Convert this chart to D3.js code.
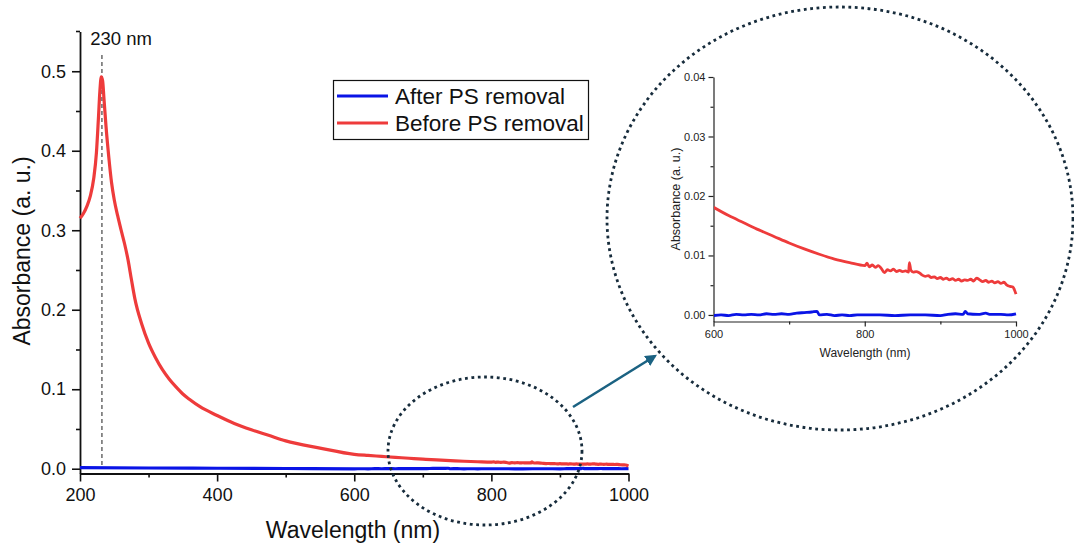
<!DOCTYPE html>
<html>
<head>
<meta charset="utf-8">
<script src="https://cdn.jsdelivr.net/npm/d3@7"></script>
<style>
  body { margin: 0; background: #fff; }
  svg { font-family: Arial, "Liberation Sans", sans-serif; }
</style>
</head>
<body>
<svg width="1074" height="546"></svg>
<script>
// wavelengths (nm) and absorbance
var redWl = [200,205,210,215,220,224,227,229,231,233,235,238,242,246,250,255,260,265,270,275,280,290,300,310,320,330,340,350,360,375,400,425,450,475,500,550,600,620,640,660,680,700,720,740,760,780,800,
  803,806,810,814,818,822,826,830,834,838,842,846,850,854,858,859,861,864,868,872,876,880,884,888,892,896,900,904,908,912,916,920,924,928,932,936,940,944,948,952,956,960,964,968,972,976,980,984,988,992,996,998,1000];
var redAbs = [0.315,0.321,0.330,0.343,0.365,0.398,0.443,0.475,0.493,0.488,0.465,0.430,0.392,0.360,0.338,0.318,0.300,0.283,0.263,0.238,0.214,0.182,0.158,0.140,0.125,0.113,0.103,0.094,0.087,0.078,0.067,0.057,0.049,0.042,0.035,0.026,0.0181,0.0167,0.0155,0.0143,0.0132,0.0121,0.0111,0.0102,0.0094,0.0088,0.0083,
  0.0087,0.0081,0.0084,0.0080,0.0083,0.0078,0.0071,0.0076,0.0074,0.0077,0.0073,0.0075,0.0073,0.0074,0.0072,0.0088,0.0075,0.0072,0.0073,0.0071,0.0067,0.0065,0.0066,0.0063,0.0064,0.0061,0.0063,0.0060,0.0062,0.0059,0.0061,0.0058,0.0060,0.0057,0.0059,0.0058,0.0060,0.0057,0.0062,0.0059,0.0056,0.0058,0.0055,0.0057,0.0054,0.0056,0.0053,0.0055,0.0050,0.0048,0.0047,0.0042,0.0035];

var blueWl = [200,300,400,500,600,610,620,630,640,650,660,670,680,690,700,710,720,730,737,740,750,760,770,780,790,800,820,840,860,880,900,910,920,930,933,936,950,960,965,980,990,1000];
var blueAbs = [0.0013,0.0009,0.0006,0.0003,-0.0001,0.0000,-0.0001,0.0001,0.0000,0.0001,0.0000,0.0002,0.0001,0.0002,0.0001,0.0003,0.0004,0.0005,0.0006,0.0000,0.0001,-0.0001,0.0000,-0.0001,0.0000,0.0000,0.0000,-0.0001,0.0000,0.0000,-0.0001,0.0001,0.0002,0.0001,0.0006,0.0002,0.0001,0.0003,0.0001,0.0001,0.0000,0.0002];

var xTicks = [200,400,600,800,1000];
var yTicks = [0.0,0.1,0.2,0.3,0.4,0.5];
var insetXTicks = [600,800,1000];
var insetYTicks = [0.00,0.01,0.02,0.03,0.04];
var peakWl = 232;
var seriesNames = ["After PS removal", "Before PS removal"];

var RED = "#ee3b3b", BLUE = "#0a14e6", DOT = "#172c3c", ARROW = "#1b6282";

var redData = d3.zip(redWl, redAbs), blueData = d3.zip(blueWl, blueAbs);
var svg = d3.select("svg");

// ---------- main chart ----------
var x = d3.scaleLinear().domain([200, 1000]).range([80, 628.5]);
var y = d3.scaleLinear().domain([-0.006, 0.55]).range([473.5, 31.5]);

function axisStyle(g, col) {
  g.selectAll("path, line").attr("stroke", col).attr("stroke-width", 1.6);
  g.select(".domain").attr("stroke-width", 1.8);
}

var gx = svg.append("g").attr("transform", "translate(0,473.5)")
  .call(d3.axisBottom(x).tickValues(xTicks).tickSize(8).tickSizeOuter(0).tickPadding(7).tickFormat(d3.format("d")));
gx.selectAll("text").attr("font-size", 18).attr("fill", "#111");
axisStyle(gx, "#111");
svg.append("g").attr("transform", "translate(0,473.5)")
  .call(d3.axisBottom(x).tickValues([300,500,700,900]).tickSize(4).tickFormat(""))
  .call(g => { g.select(".domain").remove(); g.selectAll("line").attr("stroke", "#111").attr("stroke-width", 1.6); });

var gy = svg.append("g").attr("transform", "translate(80,0)")
  .call(d3.axisLeft(y).tickValues(yTicks).tickSize(8).tickSizeOuter(0).tickPadding(6).tickFormat(d3.format(".1f")));
gy.selectAll("text").attr("font-size", 18).attr("fill", "#111");
axisStyle(gy, "#111");
svg.append("g").attr("transform", "translate(80,0)")
  .call(d3.axisLeft(y).tickValues([0.05,0.15,0.25,0.35,0.45]).tickSize(4).tickFormat(""))
  .call(g => { g.select(".domain").remove(); g.selectAll("line").attr("stroke", "#111").attr("stroke-width", 1.6); });
// little cap at top of y axis
svg.append("line").attr("x1", 76).attr("x2", 80).attr("y1", y(0.55)).attr("y2", y(0.55))
  .attr("stroke", "#111").attr("stroke-width", 1.6);

svg.append("text").attr("x", 353).attr("y", 538).attr("text-anchor", "middle")
  .attr("font-size", 23).attr("fill", "#111").text("Wavelength (nm)");
svg.append("text").attr("transform", "translate(30,251) rotate(-90)").attr("text-anchor", "middle")
  .attr("font-size", 23).attr("fill", "#111").text("Absorbance (a. u.)");

// peak marker
svg.append("line").attr("x1", x(peakWl)).attr("x2", x(peakWl)).attr("y1", 55).attr("y2", y(0))
  .attr("stroke", "#333").attr("stroke-width", 1.1).attr("stroke-dasharray", "4,3");
svg.append("text").attr("x", 121).attr("y", 45).attr("text-anchor", "middle")
  .attr("font-size", 18.5).attr("fill", "#111").text("230 nm");

var line = d3.line().curve(d3.curveMonotoneX).x(d => x(d[0])).y(d => y(d[1]));
svg.append("path").datum(blueData).attr("d", line).attr("fill", "none")
  .attr("stroke", BLUE).attr("stroke-width", 3.2);
svg.append("path").datum(redData).attr("d", line).attr("fill", "none")
  .attr("stroke", RED).attr("stroke-width", 3.2).attr("stroke-linejoin", "round");

// legend
var lg = svg.append("g");
lg.append("rect").attr("x", 333.5).attr("y", 80.5).attr("width", 255).attr("height", 59)
  .attr("fill", "#fff").attr("stroke", "#111").attr("stroke-width", 1.2);
[[BLUE, 96], [RED, 123]].forEach(function (s, i) {
  lg.append("line").attr("x1", 337).attr("x2", 388).attr("y1", s[1]).attr("y2", s[1])
    .attr("stroke", s[0]).attr("stroke-width", 3);
  lg.append("text").attr("x", 395).attr("y", s[1] + 8).attr("font-size", 22.5).attr("fill", "#111").text(seriesNames[i]);
});

// ---------- zoom ellipses + arrow ----------
svg.append("ellipse").attr("cx", 485).attr("cy", 451).attr("rx", 97).attr("ry", 74)
  .attr("fill", "none").attr("stroke", DOT).attr("stroke-width", 2.8).attr("stroke-dasharray", "2.8,3.6");
svg.append("ellipse").attr("cx", 840).attr("cy", 218.5).attr("rx", 233).attr("ry", 211.5)
  .attr("fill", "none").attr("stroke", DOT).attr("stroke-width", 2.8).attr("stroke-dasharray", "2.8,3.6");

svg.append("defs").append("marker").attr("id", "arr").attr("viewBox", "0 0 10 10")
  .attr("refX", 8).attr("refY", 5).attr("markerWidth", 4.5).attr("markerHeight", 4.5).attr("orient", "auto")
  .append("path").attr("d", "M0,0 L10,5 L0,10 Z").attr("fill", ARROW);
svg.append("line").attr("x1", 573).attr("y1", 407).attr("x2", 655).attr("y2", 356)
  .attr("stroke", ARROW).attr("stroke-width", 2.6).attr("marker-end", "url(#arr)");

// ---------- inset ----------
var ix = d3.scaleLinear().domain([600, 1000]).range([713.5, 1016]);
var iy = d3.scaleLinear().domain([-0.0011, 0.04]).range([321.5, 77]);

var igx = svg.append("g").attr("transform", "translate(0,321.5)")
  .call(d3.axisBottom(ix).tickValues(insetXTicks).tickSize(5).tickSizeOuter(0).tickPadding(4).tickFormat(d3.format("d")));
igx.selectAll("text").attr("font-size", 11).attr("fill", "#222");
igx.selectAll("path, line").attr("stroke", "#222").attr("stroke-width", 1.2);
svg.append("g").attr("transform", "translate(0,321.5)")
  .call(d3.axisBottom(ix).tickValues([700,900]).tickSize(3).tickFormat(""))
  .call(g => { g.select(".domain").remove(); g.selectAll("line").attr("stroke", "#222").attr("stroke-width", 1.2); });

var igy = svg.append("g").attr("transform", "translate(713.5,0)")
  .call(d3.axisLeft(iy).tickValues(insetYTicks).tickSize(5).tickSizeOuter(0).tickPadding(3).tickFormat(d3.format(".2f")));
igy.selectAll("text").attr("font-size", 11).attr("fill", "#222");
igy.selectAll("path, line").attr("stroke", "#222").attr("stroke-width", 1.2);
svg.append("g").attr("transform", "translate(713.5,0)")
  .call(d3.axisLeft(iy).tickValues([0.005,0.015,0.025,0.035]).tickSize(3).tickFormat(""))
  .call(g => { g.select(".domain").remove(); g.selectAll("line").attr("stroke", "#222").attr("stroke-width", 1.2); });

svg.append("text").attr("x", 865).attr("y", 357).attr("text-anchor", "middle")
  .attr("font-size", 12).attr("fill", "#222").text("Wavelength (nm)");
svg.append("text").attr("transform", "translate(680,199) rotate(-90)").attr("text-anchor", "middle")
  .attr("font-size", 12.5).attr("fill", "#222").text("Absorbance (a. u.)");

svg.select("defs").append("clipPath").attr("id", "iclip")
  .append("rect").attr("x", 714).attr("y", 70).attr("width", 305).attr("height", 252);
var iline = d3.line().curve(d3.curveMonotoneX).x(d => ix(d[0])).y(d => iy(d[1]));
var ig = svg.append("g").attr("clip-path", "url(#iclip)");
ig.append("path").datum(blueData.filter(d => d[0] >= 590)).attr("d", iline).attr("fill", "none")
  .attr("stroke", BLUE).attr("stroke-width", 2.8);
ig.append("path").datum(redData.filter(d => d[0] >= 590)).attr("d", iline).attr("fill", "none")
  .attr("stroke", RED).attr("stroke-width", 2.8).attr("stroke-linejoin", "round");
</script>
</body>
</html>
